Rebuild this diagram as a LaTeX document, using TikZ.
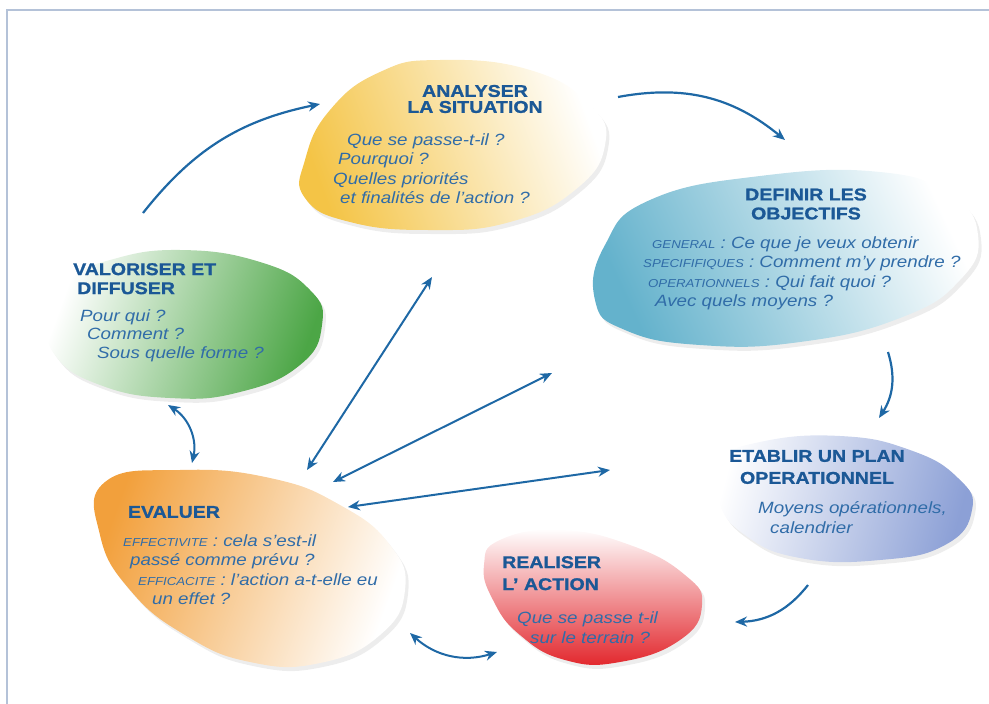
\documentclass[tikz,border=0pt]{standalone}
\usepackage{fontspec}
\setmainfont{Liberation Sans}[FakeStretch=1.15,BoldFeatures={FakeBold=1.2}]
\usetikzlibrary{positioning,calc,arrows.meta,shadows}

\definecolor{titleblue}{RGB}{27,88,150}
\definecolor{textblue}{RGB}{48,108,168}
\definecolor{arrowblue}{RGB}{30,104,165}
\definecolor{framegrey}{RGB}{180,194,216}
\definecolor{analyseyellow}{RGB}{244,196,70}
\definecolor{objteal}{RGB}{100,178,204}
\definecolor{valogreen}{RGB}{76,166,70}
\definecolor{evalorange}{RGB}{242,160,60}
\definecolor{actionred}{RGB}{226,38,44}
\definecolor{planlavender}{RGB}{140,160,214}

\newcommand{\smalllbl}[1]{{\fontsize{11.5}{19.5}\selectfont #1}}

\begin{document}
\begin{tikzpicture}[x=1pt,y=1pt,>={Stealth[length=12pt,width=10pt]},
  title/.style={font=\fontsize{17}{19}\selectfont\bfseries,text=titleblue,inner sep=0pt,align=center},
  body/.style={font=\fontsize{16.3}{19.5}\selectfont\itshape,text=textblue,align=left,inner sep=0pt,anchor=north west},
  blob/.style={drop shadow={opacity=0.14,shadow xshift=3pt,shadow yshift=-4pt}},
  cycle arrow/.style={->,draw=arrowblue,line width=2.2pt},
  link arrow/.style={<->,draw=arrowblue,line width=2pt}]
\useasboundingbox (0,0) rectangle (989,-704);
\draw[framegrey,line width=2.5pt] (989,-10) -- (7,-10) -- (7,-704);

% blobs
\shade[blob,left color=analyseyellow,right color=white,shading angle=110]
  plot[smooth cycle,tension=0.8] coordinates {(440,-60) (530,-70) (590,-105) (605,-145) (575,-190) (510,-222) (430,-230) (350,-222) (305,-198) (305,-160) (330,-110) (380,-72)};
\shade[blob,left color=objteal,right color=white,shading angle=115]
  plot[smooth cycle,tension=0.8] coordinates {(650,-200) (760,-176) (880,-172) (950,-195) (978,-235) (960,-280) (900,-318) (800,-342) (700,-345) (625,-330) (595,-300) (605,-245)};
\shade[blob,left color=white,right color=valogreen,shading angle=70]
  plot[smooth cycle,tension=0.8] coordinates {(110,-260) (180,-250) (260,-262) (310,-290) (322,-325) (300,-365) (240,-392) (170,-398) (100,-385) (55,-355) (48,-315) (70,-280)};
\shade[blob,left color=evalorange,right color=white,shading angle=70]
  plot[smooth cycle,tension=0.8] coordinates {(105,-482) (180,-470) (270,-478) (340,-505) (390,-545) (405,-590) (380,-635) (320,-663) (250,-662) (185,-635) (130,-590) (100,-535)};
\shade[blob,top color=white,bottom color=actionred]
  plot[smooth cycle,tension=0.8] coordinates {(500,-540) (560,-530) (630,-545) (685,-575) (702,-605) (680,-640) (620,-662) (565,-660) (520,-635) (493,-600) (484,-565)};
\shade[blob,left color=white,right color=planlavender,shading angle=75]
  plot[smooth cycle,tension=0.8] coordinates {(760,-442) (840,-436) (910,-450) (958,-478) (972,-510) (945,-545) (880,-560) (800,-558) (745,-535) (718,-500) (718,-462)};

% titles
\node[title] (analyse) at (475,-99) {ANALYSER\\[-3pt]LA SITUATION};
\node[title] (objectifs) at (806,-204) {DEFINIR LES\\OBJECTIFS};
\node[title,anchor=north west,align=left] (valoriser) at (73,-263) {VALORISER ET\\\hspace*{4pt}DIFFUSER};
\node[title] (evaluer) at (174,-512) {EVALUER};
\node[title,anchor=north west,align=left] (realiser) at (502,-556) {REALISER\\[3pt]L' ACTION};
\node[title] (plan) at (817,-467) {ETABLIR UN PLAN\\[3pt]OPERATIONNEL};

% texts
\node[body] (analyse text) at (333,-133) {\hspace*{14pt}Que se passe-t-il ?\\\hspace*{5pt}Pourquoi ?\\Quelles priorités\\\hspace*{7pt}et finalités de l'action ?};
\node[body] (objectifs text) at (643,-236) {\hspace*{9pt}\smalllbl{GENERAL} : Ce que je veux obtenir\\\smalllbl{SPECIFIFIQUES} : Comment m'y prendre ?\\\hspace*{5pt}\smalllbl{OPERATIONNELS} : Qui fait quoi ?\\\hspace*{12pt}Avec quels moyens ?};
\node[body,font=\fontsize{16.3}{18.5}\selectfont\itshape] (valoriser text) at (80,-309) {Pour qui ?\\\hspace*{7pt}Comment ?\\\hspace*{17pt}Sous quelle forme ?};
\node[body] (evaluer text) at (123,-534) {\smalllbl{EFFECTIVITE} : cela s'est-il\\\hspace*{7pt}passé comme prévu ?\\\hspace*{15pt}\smalllbl{EFFICACITE} : l'action a-t-elle eu\\\hspace*{29pt}un effet ?};
\node[body,font=\fontsize{16.3}{20}\selectfont\itshape] (realiser text) at (517,-611) {Que se passe t-il\\\hspace*{13pt}sur le terrain ?};
\node[body,font=\fontsize{16.3}{20}\selectfont\itshape] (plan text) at (758,-501) {Moyens opérationnels,\\\hspace*{12pt}calendrier};

% arrow ends
\coordinate (valo out) at (143,-213);
\coordinate (analyse in) at (320,-104);
\coordinate (analyse out) at (618,-97);
\coordinate (objectifs in) at (785,-140);
\coordinate (objectifs out) at (888,-352);
\coordinate (plan in) at (879,-418);
\coordinate (plan out) at (808,-585);
\coordinate (realiser in) at (735,-622);
\coordinate (realiser side) at (497,-652);
\coordinate (evaluer side) at (410,-633);
\coordinate (evaluer top) at (168,-405);
\coordinate (valo bottom) at (192,-463);
\coordinate (eval a) at (307,-470);
\coordinate (analyse a) at (432,-277);
\coordinate (eval b) at (333,-482);
\coordinate (objectifs b) at (552,-373);
\coordinate (eval c) at (348,-507);
\coordinate (plan c) at (610,-470);

% arrows
\draw[cycle arrow] (valo out) to[bend left=20] (analyse in);
\draw[cycle arrow] (analyse out) to[bend left=25] (objectifs in);
\draw[cycle arrow] (objectifs out) to[bend left=25] (plan in);
\draw[cycle arrow] (plan out) to[bend left=25] (realiser in);
\draw[link arrow] (evaluer side) to[bend right=30] (realiser side);
\draw[link arrow] (evaluer top) to[bend left=35] (valo bottom);
\draw[link arrow] (eval a) -- (analyse a);
\draw[link arrow] (eval b) -- (objectifs b);
\draw[link arrow] (eval c) -- (plan c);
\end{tikzpicture}
\end{document}
